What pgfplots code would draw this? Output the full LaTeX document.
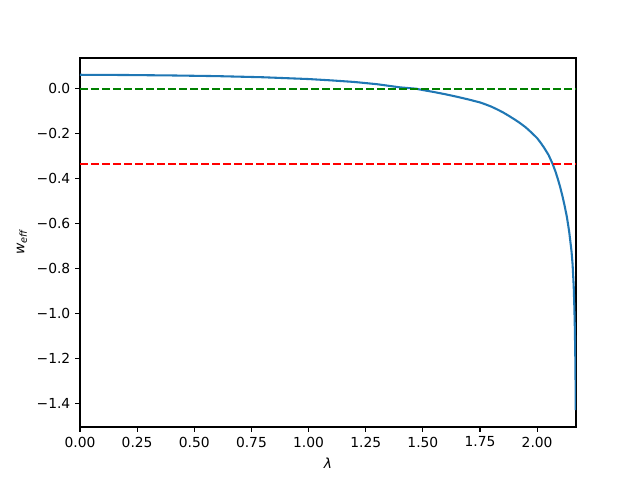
\documentclass[border=0pt]{standalone}
\usepackage{fontspec}
\setmainfont{DejaVu Sans}
\usepackage{pgfplots}
\pgfplotsset{compat=1.18}
\definecolor{mplblue}{HTML}{1F77B4}
\definecolor{mplgreen}{RGB}{0,128,0}

\begin{document}
\begin{tikzpicture}
  \path[use as bounding box] (-0.8in,-0.53in) rectangle (5.6in,4.27in);
  \begin{axis}[
      at={(0,0)}, anchor=south west,
      scale only axis,
      width=4.96in, height=3.69in,
      xmin=0, xmax=2.17,
      ymin=-1.5057, ymax=0.1367,
      xtick={0,0.25,0.5,0.75,1,1.25,1.5,1.75,2},
      xticklabels={0.00,0.25,0.50,0.75,1.00,1.25,1.50,1.75,2.00},
      ytick={-1.4,-1.2,-1,-0.8,-0.6,-0.4,-0.2,0},
      yticklabels={−1.4,−1.2,−1.0,−0.8,−0.6,−0.4,−0.2,0.0},
      tick align=outside,
      major tick length=3.5pt,
      tick style={black, line width=0.8pt},
      axis line style={line width=0.8pt},
      xtick pos=bottom, ytick pos=left,
      ticklabel style={font=\fontsize{10}{12}\selectfont},
      xlabel={\itshape λ},
      ylabel={\itshape w\textsubscript{eff}},
      label style={font=\fontsize{10}{12}\selectfont},
      xlabel style={at={(axis description cs:0.5,-0.0976)}, anchor=center},
      ylabel style={at={(axis description cs:-0.117,0.5)}, anchor=center, rotate=0},
    ]
    % w_eff(lambda)
    \addplot[color=mplblue, line width=1.5pt, line join=round] coordinates {
      (0.000,0.062) (0.200,0.061) (0.400,0.059) (0.600,0.056)
      (0.800,0.051) (0.900,0.047) (1.000,0.043) (1.100,0.037)
      (1.200,0.030) (1.300,0.020) (1.400,0.006) (1.470,0.000)
      (1.500,-0.006) (1.550,-0.015) (1.600,-0.025) (1.650,-0.036)
      (1.700,-0.048) (1.750,-0.061) (1.775,-0.070) (1.800,-0.080)
      (1.825,-0.092) (1.850,-0.105) (1.875,-0.120) (1.900,-0.136)
      (1.925,-0.153) (1.950,-0.172) (1.975,-0.195) (2.000,-0.220)
      (2.015,-0.240) (2.030,-0.262) (2.050,-0.295) (2.067,-0.333)
      (2.080,-0.368) (2.090,-0.400) (2.100,-0.435) (2.110,-0.475)
      (2.120,-0.520) (2.130,-0.570) (2.140,-0.635) (2.150,-0.720)
      (2.155,-0.780) (2.160,-0.880) (2.163,-0.980) (2.165,-1.070)
      (2.167,-1.200) (2.168,-1.300) (2.169,-1.431)
    };
    \addplot[color=mplgreen, line width=1.5pt, dash pattern=on 5.55pt off 2.4pt]
      coordinates {(0,0) (2.169,0)};
    \addplot[color=red, line width=1.5pt, dash pattern=on 5.55pt off 2.4pt]
      coordinates {(0,-0.33333) (2.169,-0.33333)};
  \end{axis}
\end{tikzpicture}
\end{document}
